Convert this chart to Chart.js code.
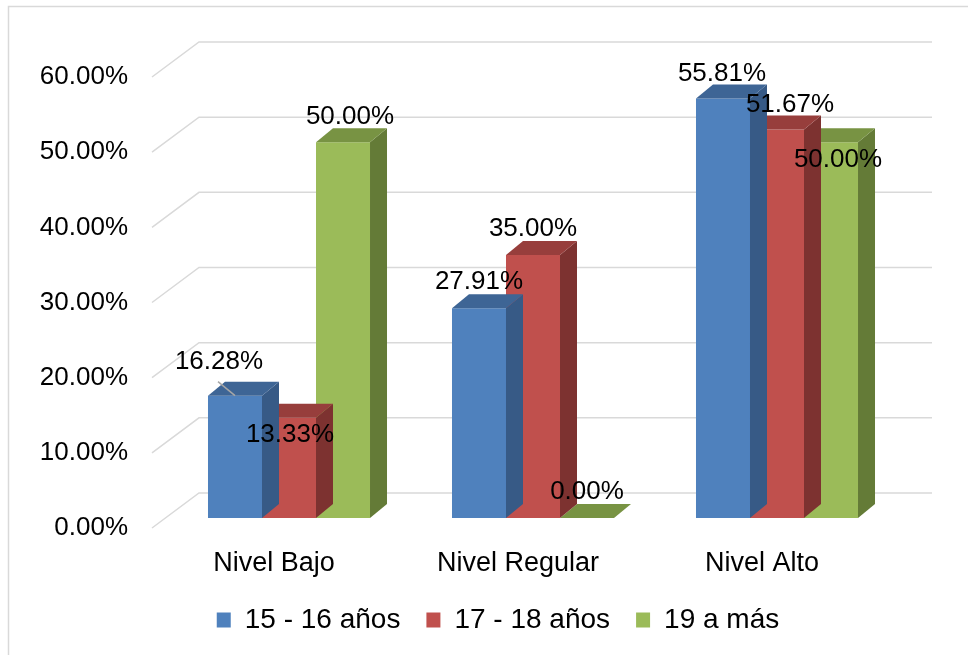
<!DOCTYPE html>
<html>
<head>
<meta charset="utf-8">
<title>Niveles por edad</title>
<script src="https://cdn.jsdelivr.net/npm/chart.js@4.4.1/dist/chart.umd.min.js"></script>
<style>
  html, body { margin: 0; padding: 0; background: #fff; }
  #chartBox { width: 968px; height: 655px; }
</style>
</head>
<body>
<div id="chartBox"><canvas id="nivelesChart" width="968" height="655"></canvas></div>
<script>
// Datos del grafico
const categorias = ["Nivel Bajo", "Nivel Regular", "Nivel Alto"];
const grupos = ["15 - 16 años", "17 - 18 años", "19 a más"];
const edad15a16 = [16.28, 27.91, 55.81];
const edad17a18 = [13.33, 35.00, 51.67];
const edad19aMas = [50.00, 0.00, 50.00];
const yTicks = [0, 10, 20, 30, 40, 50, 60];

// colores estilo Excel: frente, tapa y lado de cada barra
const frente = ["#4F81BD", "#C0504D", "#9BBB59"];
const tapa = ["#3E6595", "#973E3C", "#789343"];
const lado = ["#375A86", "#7D3230", "#647B37"];

const DX = 17, DY = -14; // profundidad de las barras
const fuente = "'Liberation Sans', Arial, sans-serif";
const formatoPct = v => v.toFixed(2) + "%";

function poly(ctx, pts) {
  ctx.beginPath();
  ctx.moveTo(pts[0][0], pts[0][1]);
  for (let k = 1; k < pts.length; k++) ctx.lineTo(pts[k][0], pts[k][1]);
  ctx.closePath();
  ctx.fill();
}

// marco, rejilla en perspectiva y etiquetas del eje Y
const rejilla3D = {
  id: "rejilla3D",
  beforeDraw(chart) {
    const ctx = chart.ctx;
    ctx.save();
    ctx.strokeStyle = "#D9D9D9";
    ctx.lineWidth = 1.5;
    ctx.beginPath();
    ctx.moveTo(8.5, 655);
    ctx.lineTo(8.5, 6.5);
    ctx.lineTo(968, 6.5);
    ctx.stroke();
    ctx.restore();
  },
  beforeDatasetsDraw(chart) {
    const { ctx, chartArea: a, scales: { y } } = chart;
    ctx.save();
    ctx.strokeStyle = "#D9D9D9";
    ctx.lineWidth = 1.5;
    ctx.font = "26px " + fuente;
    ctx.fillStyle = "#000";
    ctx.textAlign = "right";
    ctx.textBaseline = "middle";
    y.ticks.forEach(t => {
      const py = y.getPixelForValue(t.value);
      ctx.beginPath();
      ctx.moveTo(a.left - 15, py + 10);
      ctx.lineTo(a.left + 32, py - 25);
      ctx.lineTo(a.right + 33, py - 25);
      ctx.stroke();
      ctx.fillText(formatoPct(t.value), a.left - 39, py + 10);
    });
    ctx.restore();
  }
};

// caras laterales y superiores de cada barra
const barras3D = {
  id: "barras3D",
  afterDatasetDraw(chart, args) {
    const ctx = chart.ctx;
    const i = args.index;
    args.meta.data.forEach(bar => {
      const { x, y, base, width } = bar.getProps(["x", "y", "base", "width"], true);
      const l = x - width / 2, r = x + width / 2;
      ctx.save();
      if (base - y > 0.5) {
        ctx.fillStyle = lado[i];
        poly(ctx, [[r, y], [r + DX, y + DY], [r + DX, base + DY], [r, base]]);
      }
      ctx.fillStyle = tapa[i];
      poly(ctx, [[l, y], [l + DX, y + DY], [r + DX, y + DY], [r, y]]);
      ctx.restore();
    });
  }
};

// etiquetas de datos (Excel las movio en algunos casos)
const ajusteEtiqueta = {
  "0-0": [-16, -34, true],
  "1-0": [1, 17],
  "2-0": [7, -25],
  "0-2": [-1, -25],
  "1-2": [13, -25],
  "2-2": [7, 18]
};

const etiquetas = {
  id: "etiquetas",
  afterDatasetsDraw(chart) {
    const ctx = chart.ctx;
    ctx.save();
    ctx.font = "26px " + fuente;
    ctx.fillStyle = "#000";
    ctx.textAlign = "center";
    ctx.textBaseline = "middle";
    chart.data.datasets.forEach((ds, i) => {
      chart.getDatasetMeta(i).data.forEach((bar, j) => {
        const aj = ajusteEtiqueta[i + "-" + j] || [0, -26];
        if (aj[2]) {
          ctx.strokeStyle = "#A6A6A6";
          ctx.lineWidth = 1.5;
          ctx.beginPath();
          ctx.moveTo(bar.x - 17, bar.y - 14);
          ctx.lineTo(bar.x, bar.y);
          ctx.stroke();
        }
        ctx.fillText(formatoPct(ds.data[j]), bar.x + aj[0], bar.y + aj[1]);
      });
    });
    ctx.restore();
  }
};

const series = [edad15a16, edad17a18, edad19aMas];

new Chart(document.getElementById("nivelesChart"), {
  type: "bar",
  data: {
    labels: categorias,
    datasets: series.map((vals, i) => ({
      label: grupos[i],
      data: vals,
      backgroundColor: frente[i],
      borderWidth: 0,
      categoryPercentage: 0.664,
      barPercentage: 1.0
    }))
  },
  options: {
    responsive: false,
    animation: false,
    devicePixelRatio: 1,
    layout: { padding: { left: 97, right: 69, top: 67, bottom: 11 } },
    scales: {
      x: {
        grid: { display: false },
        border: { display: false },
        ticks: {
          font: { family: fuente, size: 27 },
          color: "#000",
          padding: 21,
          labelOffset: -15,
          maxRotation: 0,
          autoSkip: false
        },
        afterFit: s => { s.height = 62; }
      },
      y: {
        min: 0,
        max: 60,
        grid: { display: false, drawTicks: false },
        border: { display: false },
        afterBuildTicks: s => { s.ticks = yTicks.map(v => ({ value: v })); },
        ticks: { display: false },
        afterFit: s => { s.width = 70; }
      }
    },
    plugins: {
      legend: {
        position: "bottom",
        labels: {
          font: { family: fuente, size: 28 },
          color: "#000",
          boxWidth: 14,
          boxHeight: 15,
          padding: 26
        }
      },
      tooltip: { enabled: false }
    }
  },
  plugins: [rejilla3D, barras3D, etiquetas]
});
</script>
</body>
</html>
